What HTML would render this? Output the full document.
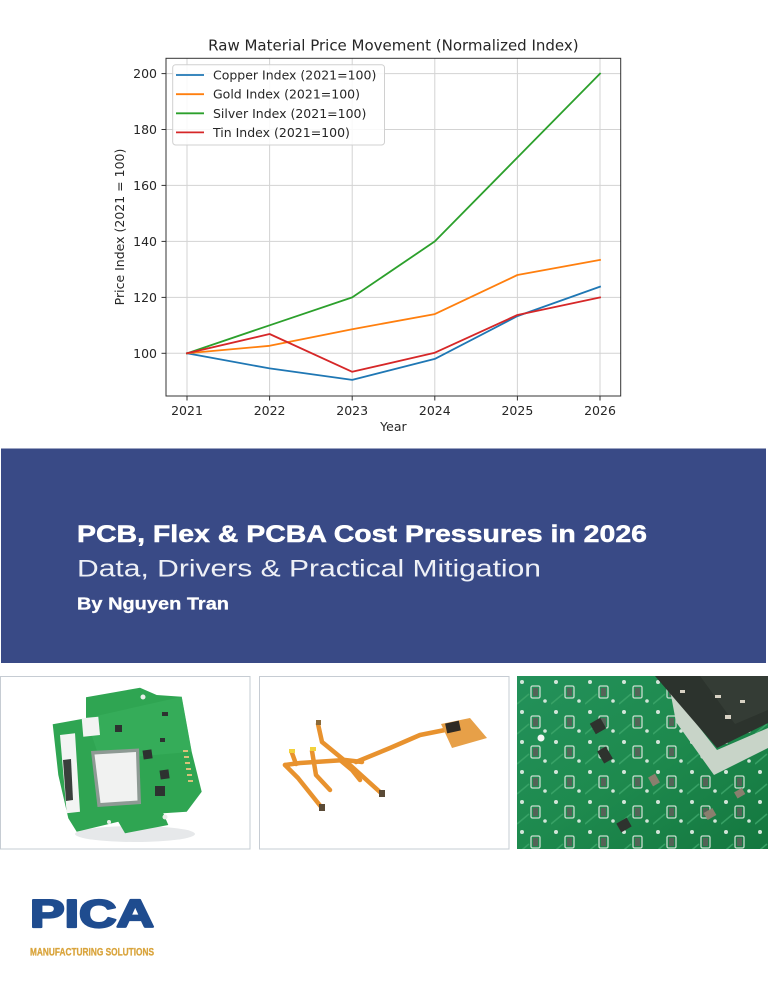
<!DOCTYPE html>
<html><head><meta charset="utf-8">
<style>html,body{margin:0;padding:0;background:#fff;width:768px;height:988px;overflow:hidden}svg{display:block}</style>
</head><body>
<svg width="768" height="988" viewBox="0 0 768 988" xmlns="http://www.w3.org/2000/svg">
<rect width="768" height="988" fill="#fff"/>

<!-- ================= CHART ================= -->
<g font-family="'DejaVu Sans', sans-serif" fill="#262626">
  <text x="393.4" y="50.7" font-size="15" text-anchor="middle">Raw Material Price Movement (Normalized Index)</text>

  <!-- grid -->
  <g stroke="#d3d3d3" stroke-width="1">
    <line x1="187" y1="58.5" x2="187" y2="396"/>
    <line x1="269.6" y1="58.5" x2="269.6" y2="396"/>
    <line x1="352.2" y1="58.5" x2="352.2" y2="396"/>
    <line x1="434.8" y1="58.5" x2="434.8" y2="396"/>
    <line x1="517.4" y1="58.5" x2="517.4" y2="396"/>
    <line x1="600" y1="58.5" x2="600" y2="396"/>
    <line x1="166" y1="73.6" x2="620.7" y2="73.6"/>
    <line x1="166" y1="129.5" x2="620.7" y2="129.5"/>
    <line x1="166" y1="185.4" x2="620.7" y2="185.4"/>
    <line x1="166" y1="241.4" x2="620.7" y2="241.4"/>
    <line x1="166" y1="297.4" x2="620.7" y2="297.4"/>
    <line x1="166" y1="353.3" x2="620.7" y2="353.3"/>
  </g>

  <!-- series -->
  <g fill="none" stroke-width="1.8" stroke-linejoin="round" stroke-linecap="square">
    <polyline stroke="#1f77b4" points="187,353.3 269.6,368.4 352.2,379.9 434.8,358.9 517.4,316.1 600,286.7"/>
    <polyline stroke="#ff7f0e" points="187,353.3 269.6,345.8 352.2,329.2 434.8,314.1 517.4,275.0 600,259.9"/>
    <polyline stroke="#2ca02c" points="187,353.3 269.6,325.3 352.2,297.4 434.8,241.4 517.4,157.5 600,73.6"/>
    <polyline stroke="#d62728" points="187,353.3 269.6,334.0 352.2,371.8 434.8,352.7 517.4,315.0 600,297.4"/>
  </g>

  <!-- axes frame -->
  <rect x="166" y="58.3" width="454.7" height="337.7" fill="none" stroke="#333" stroke-width="1"/>

  <!-- ticks -->
  <g stroke="#333" stroke-width="1">
    <line x1="161.5" y1="73.6" x2="166" y2="73.6"/>
    <line x1="161.5" y1="129.5" x2="166" y2="129.5"/>
    <line x1="161.5" y1="185.4" x2="166" y2="185.4"/>
    <line x1="161.5" y1="241.4" x2="166" y2="241.4"/>
    <line x1="161.5" y1="297.4" x2="166" y2="297.4"/>
    <line x1="161.5" y1="353.3" x2="166" y2="353.3"/>
    <line x1="187" y1="396" x2="187" y2="400.5"/>
    <line x1="269.6" y1="396" x2="269.6" y2="400.5"/>
    <line x1="352.2" y1="396" x2="352.2" y2="400.5"/>
    <line x1="434.8" y1="396" x2="434.8" y2="400.5"/>
    <line x1="517.4" y1="396" x2="517.4" y2="400.5"/>
    <line x1="600" y1="396" x2="600" y2="400.5"/>
  </g>
  <g font-size="12.5" text-anchor="end">
    <text x="157" y="78.1">200</text>
    <text x="157" y="134">180</text>
    <text x="157" y="189.9">160</text>
    <text x="157" y="245.9">140</text>
    <text x="157" y="301.9">120</text>
    <text x="157" y="357.8">100</text>
  </g>
  <g font-size="12.5" text-anchor="middle">
    <text x="187" y="415">2021</text>
    <text x="269.6" y="415">2022</text>
    <text x="352.2" y="415">2023</text>
    <text x="434.8" y="415">2024</text>
    <text x="517.4" y="415">2025</text>
    <text x="600" y="415">2026</text>
    <text x="393.4" y="431">Year</text>
    <text transform="translate(124,227) rotate(-90)">Price Index (2021 = 100)</text>
  </g>

  <!-- legend -->
  <rect x="172.7" y="64.7" width="211.8" height="80.3" rx="3" fill="#fff" fill-opacity="0.85" stroke="#d0d0d0" stroke-width="1"/>
  <g stroke-width="1.8">
    <line x1="176" y1="75" x2="204" y2="75" stroke="#1f77b4"/>
    <line x1="176" y1="94.2" x2="204" y2="94.2" stroke="#ff7f0e"/>
    <line x1="176" y1="113.3" x2="204" y2="113.3" stroke="#2ca02c"/>
    <line x1="176" y1="132.4" x2="204" y2="132.4" stroke="#d62728"/>
  </g>
  <g font-size="12.5">
    <text x="213" y="79.5">Copper Index (2021=100)</text>
    <text x="213" y="98.7">Gold Index (2021=100)</text>
    <text x="213" y="117.8">Silver Index (2021=100)</text>
    <text x="213" y="136.9">Tin Index (2021=100)</text>
  </g>
</g>

<!-- ================= BANNER ================= -->
<rect x="1" y="448.5" width="765" height="214.5" fill="#394a86"/>
<g font-family="'Liberation Sans', Arial, sans-serif" fill="#fff">
  <text x="77" y="542" font-size="24.5" font-weight="bold" stroke="#fff" stroke-width="0.5" textLength="570" lengthAdjust="spacingAndGlyphs">PCB, Flex &amp; PCBA Cost Pressures in 2026</text>
  <text x="77" y="576.5" font-size="24" fill="#eef0f6" textLength="464" lengthAdjust="spacingAndGlyphs">Data, Drivers &amp; Practical Mitigation</text>
  <text x="77" y="609.5" font-size="17.5" font-weight="bold" stroke="#fff" stroke-width="0.3" textLength="152" lengthAdjust="spacingAndGlyphs">By Nguyen Tran</text>
</g>

<!-- ================= PHOTO 1: PCB ================= -->
<rect x="0.5" y="676.5" width="249.5" height="172.5" fill="#fff" stroke="#c6ccd3" stroke-width="1"/>
<ellipse cx="135" cy="834" rx="60" ry="8" fill="#e6e8ea"/>
<polygon fill="#2fa552" points="52.7,724.3 86,718.3 86,697.3 140,687.7 156.7,695 181.7,696.7 191.7,751.7 201.7,791.7 186.7,811.7 163.3,813.3 168.3,825 125,833.3 118.3,821.7 76.7,831.7 68.3,818.3 58.3,775"/>
<polygon fill="#3bb35f" opacity="0.5" points="86,718.3 181.7,696.7 191.7,751.7 100,760"/>
<polygon fill="#f3f4f3" points="60,735 75,733.3 80,811.7 66.7,813.3"/>
<polygon fill="#3a3f3c" points="63,760 71,759 73,800 66,801"/>
<polygon fill="#f2f3f2" points="81.7,718.3 98.3,716.7 100,735 83.3,736.7"/>
<polygon fill="#8e9a94" points="91,751 139,748.5 141,804 97.5,807"/>
<polygon fill="#f1f2f1" points="94.5,754.5 136,752 137.5,800.5 100.5,803"/>
<g fill="#2d3230">
  <rect x="115" y="725" width="7" height="7"/>
  <rect x="143" y="750" width="9" height="9" transform="rotate(-8 147 754)"/>
  <rect x="160" y="770" width="9" height="9" transform="rotate(-8 164 774)"/>
  <rect x="155" y="786" width="10" height="10"/>
  <rect x="162" y="712" width="6" height="4"/>
  <rect x="160" y="738" width="5" height="4"/>
  <circle cx="143" cy="697" r="2.5" fill="#e8eee8"/>
  <circle cx="165" cy="817" r="2.5" fill="#e8eee8"/>
  <circle cx="109" cy="822" r="2" fill="#e8eee8"/>
</g>
<g fill="#d8c27a">
  <rect x="183" y="750" width="5" height="2"/><rect x="184" y="756" width="5" height="2"/>
  <rect x="185" y="762" width="5" height="2"/><rect x="186" y="768" width="5" height="2"/>
  <rect x="187" y="774" width="5" height="2"/><rect x="188" y="780" width="5" height="2"/>
</g>

<!-- ================= PHOTO 2: FLEX ================= -->
<rect x="259.5" y="676.5" width="249.5" height="172.5" fill="#fff" stroke="#c6ccd3" stroke-width="1"/>
<g fill="none" stroke="#e8922e" stroke-width="4.5" stroke-linejoin="round" stroke-linecap="round">
  <polyline points="318,724 322,742 350,765 381,793"/>
  <polyline points="285,765 300,763 345,760 362,762"/>
  <polyline points="285,765 298,778 322,808"/>
  <polyline points="292,753 296,764"/>
  <polyline points="312,751 316,775 330,790"/>
  <polyline points="340,760 352,770 360,780"/>
  <polyline points="356,762 390,748 420,735 445,730"/>
</g>
<polygon fill="#e7a048" points="441,724 470,718 487,738 452,748"/>
<rect x="446" y="722" width="14" height="10" fill="#2f2a24" transform="rotate(-12 453 727)"/>
<g fill="#f2d23c"><rect x="289" y="749" width="6" height="4"/><rect x="310" y="747" width="6" height="4"/></g>
<rect x="316" y="720" width="5" height="5" fill="#8a6a3a"/>
<rect x="319" y="804" width="6" height="7" fill="#5a4a36"/>
<rect x="379" y="790" width="6" height="7" fill="#5a4a36"/>

<!-- ================= PHOTO 3: PCB CLOSE-UP ================= -->
<defs>
  <linearGradient id="g3" x1="0" y1="0" x2="1" y2="1">
    <stop offset="0" stop-color="#23915a"/>
    <stop offset="0.5" stop-color="#1e8a4e"/>
    <stop offset="1" stop-color="#14773f"/>
  </linearGradient>
  <pattern id="pads" x="517" y="676" width="34" height="30" patternUnits="userSpaceOnUse">
    <circle cx="5" cy="6" r="2" fill="#e7efe8"/>
    <rect x="14" y="10" width="9" height="12" rx="1.5" fill="none" stroke="#d9e6dc" stroke-width="1.3"/>
    <rect x="16" y="12" width="5" height="8" fill="#5a5f58"/>
    <circle cx="28" cy="25" r="1.8" fill="#e7efe8"/>
    <line x1="0" y1="28" x2="12" y2="18" stroke="#3aa468" stroke-width="1.5"/>
  </pattern>
</defs>
<rect x="517" y="676" width="251" height="173" fill="url(#g3)"/>
<rect x="517" y="676" width="251" height="173" fill="url(#pads)" opacity="0.9"/>
<polygon fill="#c8d4c8" points="670,690 717,750 768,728 768,748 714,775 676,722"/>
<polygon fill="#2c332d" points="655,676 768,676 768,723 717,748"/>
<polygon fill="#3a423a" opacity="0.6" points="700,676 768,676 768,710 735,724"/>
<g fill="#d8d2c4">
  <rect x="680" y="690" width="5" height="3"/><rect x="715" y="695" width="6" height="3"/>
  <rect x="740" y="700" width="5" height="3"/><rect x="725" y="715" width="6" height="4"/>
</g>
<circle cx="541" cy="738" r="3.5" fill="#f3f6f3"/>
<g fill="#2e332e">
  <rect x="592" y="720" width="12" height="12" transform="rotate(-30 598 726)"/>
  <rect x="600" y="748" width="10" height="14" transform="rotate(-30 605 755)"/>
  <rect x="618" y="820" width="12" height="10" transform="rotate(-30 624 825)"/>
</g>
<g fill="#8a7f6e">
  <rect x="705" y="810" width="10" height="8" transform="rotate(-30 710 814)"/>
  <rect x="650" y="775" width="8" height="10" transform="rotate(-30 654 780)"/>
  <rect x="735" y="790" width="9" height="7" transform="rotate(-30 739 793)"/>
</g>

<!-- ================= LOGO ================= -->
<g font-family="'Liberation Sans', Arial, sans-serif" font-weight="bold">
  <text x="30" y="927" font-size="39" fill="#1f4c8f" stroke="#1f4c8f" stroke-width="2.2" stroke-linejoin="round" textLength="124" lengthAdjust="spacingAndGlyphs">PICA</text>
  <text x="30" y="955.5" font-size="11" fill="#d9a43c" stroke="#d9a43c" stroke-width="0.3" textLength="124" lengthAdjust="spacingAndGlyphs">MANUFACTURING SOLUTIONS</text>
</g>
</svg>
</body></html>
